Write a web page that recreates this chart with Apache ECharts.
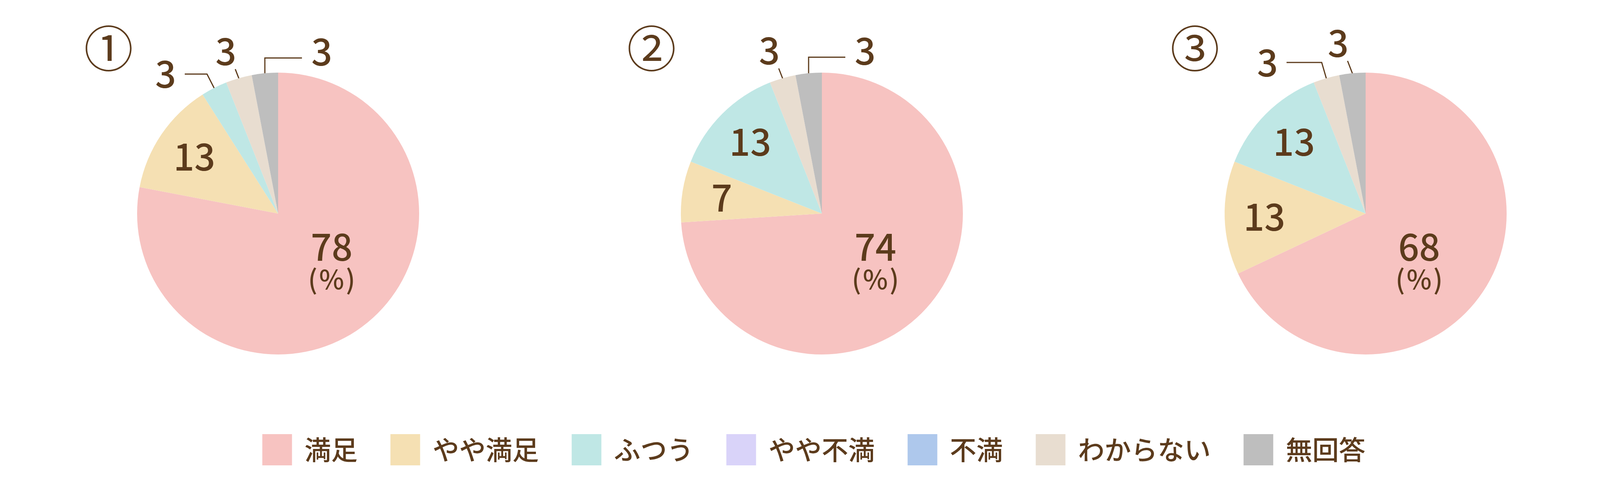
<!DOCTYPE html>
<html lang="ja">
<head>
<meta charset="utf-8">
<title>満足度</title>
<script src="https://cdn.jsdelivr.net/npm/echarts@6/dist/echarts.min.js"></script>
<style>
  html, body { margin: 0; padding: 0; background: #fff; }
  #main { width: 4167px; height: 1250px; }
</style>
</head>
<body>
<div id="main"></div>
<script>
// --- data ---
var categories = ['満足', 'やや満足', 'ふつう', 'やや不満', '不満', 'わからない', '無回答'];
var pieTitles = ['①', '②', '③'];
var values1 = [78, 13, 3, 0, 0, 3, 3];
var values2 = [74, 7, 13, 0, 0, 3, 3];
var values3 = [68, 13, 13, 0, 0, 3, 3];
var pieValues = [values1, values2, values3];

// --- style ---
var colors = ['#f7c3c1', '#f5e0b3', '#bfe7e5', '#d9d3f9', '#aec8ec', '#e8ddd0', '#bebebe'];
var brown = '#5c3b1c';
var font = '"Noto Sans CJK JP", "Noto Sans", sans-serif';
var weight = 500;
var centersX = [712, 2104, 3496];
var centerY = 547;
var radius = 361;
var titleX = [278, 1668, 3059];
var titleY = 124;
var mainLabelShift = [137, 120];

// callout lines for the small slices, keyed by data index
var callouts = [
  { 2: { mode: 'elbow', len1: 40, len2: 57 }, 5: { mode: 'above', len1: 25 }, 6: { mode: 'upRight', len1: 39, len2: 95 } },
  { 5: { mode: 'above', len1: 27 }, 6: { mode: 'upRight', len1: 41, len2: 94 } },
  { 5: { mode: 'elbow', len1: 42, len2: 90 }, 6: { mode: 'above', len1: 34 } }
];

var dom = document.getElementById('main');
var myChart = echarts.init(dom);

function makeLabelLayout(spec) {
  return function (params) {
    if (params.dataIndex === 0) {
      // the big slice label sits at a fixed offset from the pie centre
      return { dx: mainLabelShift[0], dy: mainLabelShift[1] };
    }
    var c = spec[params.dataIndex];
    var pts = params.labelLinePoints;
    if (!c || !pts || pts.length < 2) {
      return {};
    }
    var a = pts[0], b = pts[1];
    var dx = b[0] - a[0], dy = b[1] - a[1];
    var len = Math.sqrt(dx * dx + dy * dy) || 1;
    var ux = dx / len, uy = dy / len;
    var inset = 18;
    var start, bend, end;
    if (c.mode === 'above') {
      ux = -0.36; uy = -0.93;
      start = [a[0] - ux * inset, a[1] - uy * inset];
      end = [a[0] + ux * c.len1, a[1] + uy * c.len1];
      return { x: end[0] - 24, y: end[1] - 46, align: 'center', verticalAlign: 'middle', labelLinePoints: [start, end] };
    }
    if (c.mode === 'upRight') {
      start = [a[0], a[1] + inset];
      bend = [a[0], a[1] - c.len1];
      end = [bend[0] + c.len2, bend[1]];
      return { x: end[0] + 24, y: end[1] - 16, align: 'left', verticalAlign: 'middle', labelLinePoints: [start, bend, end] };
    }
    // elbow to the left
    start = [a[0] - ux * inset, a[1] - uy * inset];
    bend = [a[0] + ux * c.len1, a[1] + uy * c.len1];
    end = [bend[0] - c.len2, bend[1]];
    return { x: end[0] - 22, y: end[1], align: 'right', verticalAlign: 'middle', labelLinePoints: [start, bend, end] };
  };
}

var series = [];
var overlays = [];

pieValues.forEach(function (vals, p) {
  var mainData = [];
  var innerData = [];
  vals.forEach(function (v, i) {
    var item = { name: categories[i], value: v };
    if (i === 0) {
      item.label = { show: true, position: 'center', formatter: '{v|{c}}\n{p|(\u200a%\u200a)}' };
    } else if (v > 0 && v < 5) {
      item.label = { show: true, position: 'outside', formatter: '{c}', fontSize: 94, fontWeight: weight, color: brown, fontFamily: font };
      item.labelLine = { show: true, length: 30, length2: 20 };
    }
    mainData.push(item);
    innerData.push({
      name: categories[i],
      value: v,
      label: { show: i > 0 && v >= 5 }
    });
  });

  series.push({
    type: 'pie',
    center: [centersX[p], centerY],
    radius: [0, radius],
    startAngle: 90,
    clockwise: true,
    avoidLabelOverlap: false,
    animation: false,
    itemStyle: { borderWidth: 0 },
    emphasis: { disabled: true },
    label: {
      show: false,
      color: brown,
      fontFamily: font,
      rich: {
        v: { fontSize: 94, fontWeight: weight, lineHeight: 96, color: brown, fontFamily: font },
        p: { fontSize: 68, fontWeight: weight, lineHeight: 70, color: brown, fontFamily: font }
      }
    },
    labelLine: { show: false, lineStyle: { color: brown, width: 3 } },
    labelLayout: makeLabelLayout(callouts[p]),
    data: mainData
  });

  overlays.push({
    type: 'pie',
    center: [centersX[p], centerY],
    radius: [radius * 0.42, radius],
    startAngle: 90,
    clockwise: true,
    silent: true,
    animation: false,
    avoidLabelOverlap: false,
    emphasis: { disabled: true },
    itemStyle: { color: 'rgba(0,0,0,0)', borderWidth: 0 },
    label: { show: false, position: 'inside', formatter: '{c}', fontSize: 94, fontWeight: weight, color: brown, fontFamily: font },
    labelLine: { show: false },
    data: innerData
  });
});

var option = {
  backgroundColor: '#ffffff',
  color: colors,
  legend: {
    data: categories,
    left: 'center',
    top: 1107,
    icon: 'rect',
    itemWidth: 76,
    itemHeight: 80,
    itemGap: 84,
    selectedMode: false,
    textStyle: { fontSize: 68, fontWeight: weight, color: brown, fontFamily: font, padding: [0, 0, 0, 27] }
  },
  graphic: pieTitles.map(function (t, i) {
    return {
      type: 'text',
      x: titleX[i],
      y: titleY,
      style: {
        text: t,
        fill: brown,
        font: '400 126px ' + font,
        textAlign: 'center',
        textVerticalAlign: 'middle'
      }
    };
  }),
  series: series.concat(overlays)
};

if (option && typeof option === 'object') {
  myChart.setOption(option);
}
</script>
</body>
</html>
